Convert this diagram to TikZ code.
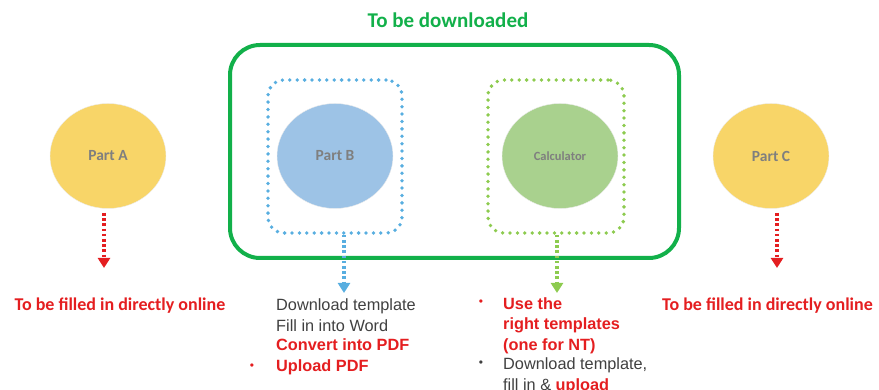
\documentclass[tikz,border=0pt]{standalone}
\usepackage{fontspec}
\setmainfont{Liberation Sans}
\newfontfamily\calib{Carlito}
\usetikzlibrary{arrows.meta,shapes.geometric}
\definecolor{tgreen}{HTML}{12B04A}
\definecolor{tred}{HTML}{E41E20}
\definecolor{tgray}{HTML}{404040}
\definecolor{lgray}{HTML}{7F7F7F}
\definecolor{eyel}{HTML}{F8D568}
\definecolor{eblu}{HTML}{9DC3E6}
\definecolor{egrn}{HTML}{A9D18E}
\definecolor{dblu}{HTML}{58AEE0}
\definecolor{dgrn}{HTML}{8DCB4F}
\tikzset{
  part/.style={ellipse, minimum width=116pt, minimum height=105pt, inner sep=0pt, draw=white!85!gray, line width=0.4pt, text=lgray, font=\calib\bfseries\fontsize{15.5}{18}\selectfont},
  dotbox/.style={rounded corners=16pt, line width=3.8pt, dash pattern=on 0pt off 7.4pt, line cap=round},
  redarrow/.style={draw=tred, line width=3.4pt, dash pattern=on 2.6pt off 2.6pt, -{Triangle[length=10pt,width=12pt]}},
  dotarrow/.style={line width=3.4pt, dash pattern=on 2.6pt off 2.6pt, -{Triangle[length=10pt,width=12pt]}},
  onl/.style={text=tred, font=\calib\bfseries\fontsize{18}{22}\selectfont, inner sep=0pt, anchor=base},
  li/.style={inner sep=0pt, anchor=base west, font=\fontsize{16.3}{20}\selectfont, text=tgray},
  lired/.style={li, text=tred, font=\bfseries\fontsize{16.3}{20}\selectfont},
  bul/.style={inner sep=0pt, anchor=center, font=\fontsize{12}{14}\selectfont}
}
\begin{document}
\begin{tikzpicture}[x=1pt,y=-1pt]
\useasboundingbox (0,0) rectangle (879,390);
% title and big box
\node[text=tgreen, font=\calib\bfseries\fontsize{21}{25}\selectfont, inner sep=0pt] (title) at (448,20) {To be downloaded};
\node[draw=tgreen, line width=4pt, rounded corners=30pt, minimum width=449pt, minimum height=213pt, inner sep=0pt] (dl) at (454.5,151.5) {};
% dotted boxes
\node[draw=dblu, dotbox, minimum width=134pt, minimum height=153pt, inner sep=0pt] (bbox) at (335,156.5) {};
\node[draw=dgrn, dotbox, minimum width=136pt, minimum height=153pt, inner sep=0pt] (gbox) at (556,156.5) {};
% ellipses
\node[part, fill=eyel] (pa) at (108,156) {Part A};
\node[part, fill=eblu] (pb) at (335,156) {Part B};
\node[part, fill=egrn, font=\calib\bfseries\fontsize{12.5}{15}\selectfont] (calc) at (560,156) {Calculator};
\node[part, fill=eyel] (pc) at (771,156) {Part C};
% arrow endpoints
\coordinate (aS) at (104,213);
\coordinate (aE) at (104,268);
\coordinate (cS) at (777,213);
\coordinate (cE) at (777,268);
\coordinate (bE) at (344,293);
\coordinate (gE) at (557,293);
\draw[redarrow] (aS) -- (aE);
\draw[redarrow] (cS) -- (cE);
\draw[dotarrow, draw=dblu, -{Triangle[length=10pt,width=12pt,fill=dblu]}] (bbox.south -| bE) -- (bE);
\draw[dotarrow, draw=dgrn, -{Triangle[length=10pt,width=12pt,fill=dgrn]}] (gbox.south -| gE) -- (gE);
% online texts
\node[onl] (ta) at (120,311) {To be filled in directly online};
\node[onl] (tc) at (767.5,311) {To be filled in directly online};
% blue list
\node[li] (b1) at (276,311) {Download template};
\node[li] (b2) at (276,331) {Fill in into Word};
\node[lired] (b3) at (276,351) {Convert into PDF};
\node[bul, text=tred] (b4b) at (252,367) {•};
\node[lired] (b4) at (276,371) {Upload PDF};
% green list
\node[bul, text=tred] (g1b) at (481,303) {•};
\node[lired] (g1) at (503,309) {Use the};
\node[lired] (g2) at (503,329.5) {right templates};
\node[lired] (g3) at (503,350) {(one for NT)};
\node[bul, text=tgray] (g4b) at (481,364) {•};
\node[li] (g4) at (503,370) {Download template,};
\node[li] (g5) at (503,390) {fill in \& \textcolor{tred}{\bfseries upload}};
\end{tikzpicture}
\end{document}
